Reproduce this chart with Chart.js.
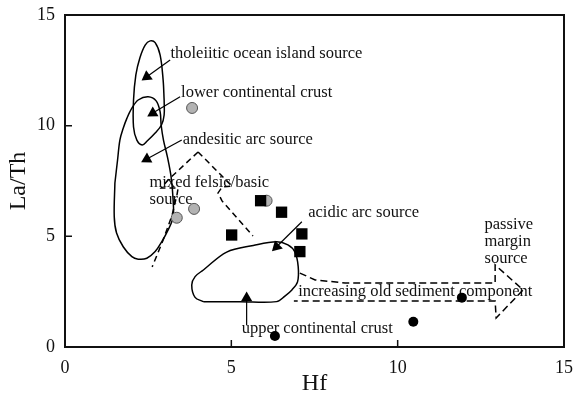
<!DOCTYPE html>
<html lang="en">
<head>
<meta charset="UTF-8">
<title>Hf vs La/Th</title>
<script src="https://cdn.jsdelivr.net/npm/chart.js"></script>
<style>
  html, body { margin: 0; padding: 0; background: #fff; }
</style>
</head>
<body>
<canvas id="hfChart" width="577" height="399"></canvas>
<script>
// axis ticks
const xTicks = [0, 5, 10, 15];
const yTicks = [0, 5, 10, 15];

// samples [Hf, La/Th]
const graySamples = [[3.82, 10.80], [3.88, 6.24], [3.36, 5.84], [6.06, 6.61]];
const squareSamples = [[5.88, 6.61], [6.51, 6.09], [5.01, 5.06], [7.12, 5.11], [7.06, 4.31]];
const dotSamples = [[6.31, 0.50], [10.47, 1.14], [11.93, 2.23]];

// source fields (closed outlines)
const tholeiiticField = [
  [2.98, 11.16], [2.98, 10.48], [2.90, 10.03], [2.71, 9.67], [2.47, 9.31], [2.32, 9.13],
  [2.16, 9.35], [2.06, 9.94], [2.06, 11.16], [2.13, 12.29], [2.25, 13.06], [2.41, 13.64],
  [2.56, 13.83], [2.71, 13.75], [2.86, 13.19], [2.95, 12.06], [2.98, 11.16]
];
const andesiticField = [
  [1.50, 7.41], [1.48, 5.89], [1.55, 5.15], [1.75, 4.53], [2.01, 4.08], [2.20, 3.97],
  [2.46, 4.01], [2.71, 4.31], [2.91, 4.76], [3.10, 5.29], [3.25, 5.87], [3.25, 6.64],
  [3.19, 7.68], [3.08, 8.58], [2.96, 9.35], [2.89, 10.03], [2.86, 10.62], [2.74, 11.12],
  [2.50, 11.31], [2.20, 11.16], [2.01, 10.79], [1.86, 10.33], [1.75, 9.88], [1.65, 9.35],
  [1.58, 8.45], [1.50, 7.41]
];
const acidicField = [
  [4.16, 2.05], [5.26, 2.05], [6.36, 2.05], [6.61, 2.30], [6.82, 2.58], [6.99, 2.94],
  [7.01, 3.63], [6.91, 4.29], [6.70, 4.61], [6.36, 4.76], [5.66, 4.59], [4.86, 4.29],
  [4.16, 3.48], [3.91, 3.18], [3.81, 2.80], [3.91, 2.24], [4.16, 2.05]
];

// dashed outlines
const mixedLeft = [
  [4.00, 8.81], [3.10, 7.55], [2.89, 7.18], [3.40, 7.18], [3.37, 6.91],
  [3.22, 5.96], [2.95, 4.83], [2.62, 3.62]
];
const mixedRight = [
  [4.00, 8.81], [5.02, 7.27], [4.72, 7.23], [4.60, 6.96], [4.72, 6.60], [5.65, 5.02]
];
const passiveArrow = [
  [7.06, 3.34], [7.52, 3.03], [8.42, 2.89], [12.93, 2.89], [12.93, 3.71], [13.77, 2.58],
  [12.96, 1.31], [12.93, 2.08], [6.88, 2.08]
];

// pointer arrows: from label to reference composition
const pointers = [
  [[3.16, 12.97], [2.46, 12.21]],
  [[3.46, 11.31], [2.64, 10.57]],
  [[3.51, 9.35], [2.46, 8.49]],
  [[7.12, 5.66], [6.36, 4.53]],
  [[5.46, 0.99], [5.46, 2.21]]
];

// annotations [text, Hf, La/Th] (baseline left)
const notes = [
  ['tholeiitic ocean island source', 3.17, 13.06],
  ['lower continental crust', 3.49, 11.30],
  ['andesitic arc source', 3.54, 9.19],
  ['mixed felsic/basic', 2.54, 7.21],
  ['source', 2.54, 6.46],
  ['acidic arc source', 7.31, 5.89],
  ['passive', 12.61, 5.31],
  ['margin', 12.61, 4.56],
  ['source', 12.61, 3.78],
  ['increasing old sediment component', 7.01, 2.32],
  ['upper continental crust', 5.31, 0.62]
];

const serif = 'Liberation Serif';
const pts = arr => arr.map(([x, y]) => ({x, y}));

const outline = (data, dash) => ({
  data: pts(data),
  showLine: true,
  borderColor: '#000',
  borderWidth: 1.5,
  borderDash: dash || [],
  tension: dash ? 0 : 0.35,
  pointRadius: 0,
  pointHitRadius: 0,
  order: 5
});

const pointerSets = pointers.map(([from, to]) => ({
  data: pts([from, to]),
  showLine: true,
  borderColor: '#000',
  borderWidth: 1.2,
  backgroundColor: '#000',
  pointStyle: 'triangle',
  pointRadius: c => c.dataIndex === 1 ? 6.5 : 0,
  pointBorderWidth: 0,
  pointRotation: c => {
    const {x, y} = c.chart.scales;
    const dx = x.getPixelForValue(to[0]) - x.getPixelForValue(from[0]);
    const dy = y.getPixelForValue(to[1]) - y.getPixelForValue(from[1]);
    return Math.atan2(dx, -dy) * 180 / Math.PI;
  },
  order: 4
}));

// text notes, drawn under the markers
const notesPlugin = {
  id: 'notes',
  beforeDatasetsDraw(chart) {
    const {ctx, scales: {x, y}} = chart;
    ctx.save();
    ctx.font = '16.5px "' + serif + '"';
    ctx.fillStyle = '#111';
    ctx.textAlign = 'left';
    ctx.textBaseline = 'alphabetic';
    notes.forEach(([t, hf, lt]) => ctx.fillText(t, x.getPixelForValue(hf), y.getPixelForValue(lt)));
    ctx.restore();
  }
};

// box frame with inward ticks
const framePlugin = {
  id: 'frame',
  afterDatasetsDraw(chart) {
    const {ctx, chartArea: a, scales: {x, y}} = chart;
    ctx.save();
    ctx.strokeStyle = '#111';
    ctx.lineWidth = 2;
    ctx.strokeRect(a.left, a.top, a.right - a.left, a.bottom - a.top);
    ctx.lineWidth = 1.5;
    ctx.beginPath();
    xTicks.slice(1, -1).forEach(v => {
      const px = x.getPixelForValue(v);
      ctx.moveTo(px, a.bottom);
      ctx.lineTo(px, a.bottom - 7);
    });
    yTicks.slice(1, -1).forEach(v => {
      const py = y.getPixelForValue(v);
      ctx.moveTo(a.left, py);
      ctx.lineTo(a.left + 7, py);
    });
    ctx.stroke();
    ctx.restore();
  }
};

const axis = (ticks, title, fixSize) => ({
  type: 'linear',
  min: ticks[0],
  max: ticks[ticks.length - 1],
  afterBuildTicks: s => { s.ticks = ticks.map(v => ({value: v})); },
  afterFit: fixSize,
  grid: {display: false, drawTicks: false},
  border: {display: false},
  ticks: {color: '#111', padding: 10, font: {family: serif, size: 18}},
  title: {display: true, text: title, color: '#111', font: {family: serif, size: 24}}
});

// fixed axis boxes so the plot area sits where the frame belongs
const xAxis = axis(xTicks, 'Hf', s => {
  s.height = 52;
  s.paddingLeft = 0;
  s.paddingRight = 0;
});
xAxis.title.padding = {top: 0, bottom: 1};
const yAxis = axis(yTicks, 'La/Th', s => {
  s.width = 65;
  s.paddingTop = 0;
  s.paddingBottom = 0;
});
yAxis.title.padding = {top: 4, bottom: 0};

new Chart(document.getElementById('hfChart'), {
  type: 'scatter',
  data: {
    datasets: [
      {
        data: pts(squareSamples),
        pointStyle: 'rect',
        pointRadius: 8,
        backgroundColor: '#000',
        borderColor: '#000',
        borderWidth: 0,
        order: 1
      },
      {
        data: pts(graySamples),
        pointStyle: 'circle',
        pointRadius: 5.5,
        backgroundColor: '#b3b3b3',
        borderColor: '#555',
        borderWidth: 1,
        order: 2
      },
      {
        data: pts(dotSamples),
        pointStyle: 'circle',
        pointRadius: 5,
        backgroundColor: '#000',
        borderColor: '#000',
        borderWidth: 0,
        order: 1
      },
      ...pointerSets,
      outline(tholeiiticField),
      outline(andesiticField),
      outline(acidicField),
      outline(mixedLeft, [6, 4]),
      outline(mixedRight, [6, 4]),
      outline(passiveArrow, [7, 4])
    ]
  },
  options: {
    responsive: false,
    animation: false,
    layout: {padding: {left: 0, top: 15, right: 13, bottom: 0}},
    plugins: {legend: {display: false}, tooltip: {enabled: false}},
    scales: {x: xAxis, y: yAxis}
  },
  plugins: [notesPlugin, framePlugin]
});
</script>
</body>
</html>
